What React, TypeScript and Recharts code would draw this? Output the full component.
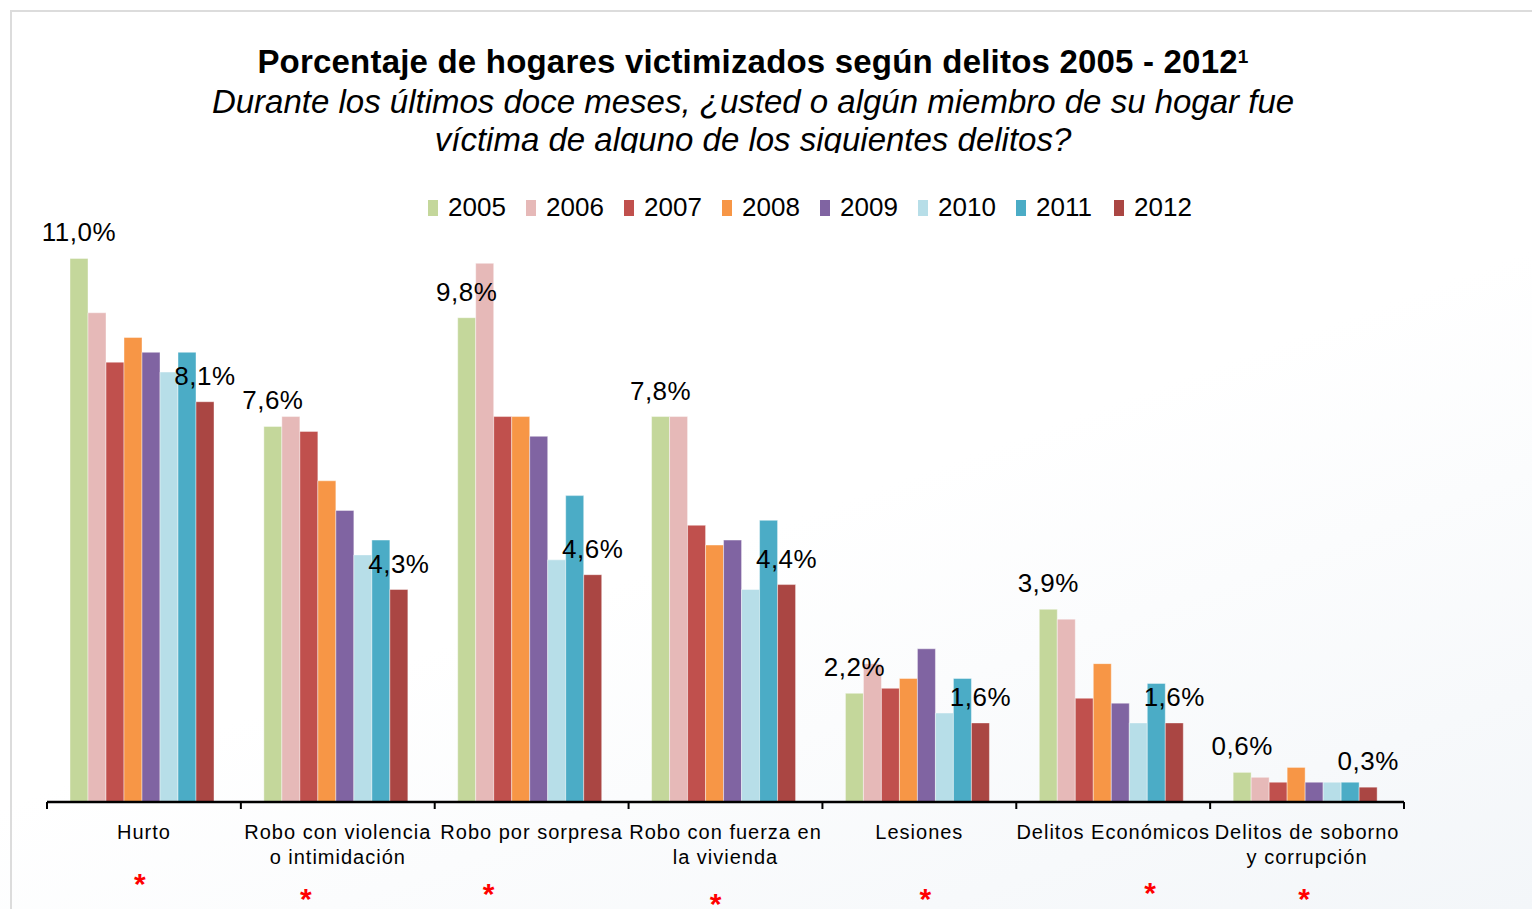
import React from "react";
import { BarChart, Bar, XAxis, YAxis, Legend, LabelList } from "recharts";

const categories = [
  "Hurto",
  "Robo con violencia\no intimidación",
  "Robo por sorpresa",
  "Robo con fuerza en\nla vivienda",
  "Lesiones",
  "Delitos Económicos",
  "Delitos de soborno\ny corrupción",
];

const years = ["2005", "2006", "2007", "2008", "2009", "2010", "2011", "2012"];

const v2005 = [11.0, 7.6, 9.8, 7.8, 2.2, 3.9, 0.6];
const v2006 = [9.9, 7.8, 10.9, 7.8, 2.8, 3.7, 0.5];
const v2007 = [8.9, 7.5, 7.8, 5.6, 2.3, 2.1, 0.4];
const v2008 = [9.4, 6.5, 7.8, 5.2, 2.5, 2.8, 0.7];
const v2009 = [9.1, 5.9, 7.4, 5.3, 3.1, 2.0, 0.4];
const v2010 = [8.7, 5.0, 4.9, 4.3, 1.8, 1.6, 0.4];
const v2011 = [9.1, 5.3, 6.2, 5.7, 2.5, 2.4, 0.4];
const v2012 = [8.1, 4.3, 4.6, 4.4, 1.6, 1.6, 0.3];

const series = [v2005, v2006, v2007, v2008, v2009, v2010, v2011, v2012];
const colors = ["#C4D79B", "#E6B9B8", "#C0504D", "#F79646", "#8064A2", "#B7DEE8", "#4BACC6", "#AA4643"];

const data = categories.map((c, i) => {
  const row: any = { name: c };
  years.forEach((y, k) => (row["y" + y] = series[k][i]));
  return row;
});

// chart frame
const W = 1532;
const H = 909;
const M = { top: 209, right: 128, left: 47, bottom: 7 };
const BAND = (W - M.left - M.right) / categories.length;

// red asterisks under each category (dx from centre, baseline below axis)
const stars = [
  { dx: -4, dy: 92 },
  { dx: -32, dy: 107 },
  { dx: -43, dy: 102 },
  { dx: -10, dy: 112 },
  { dx: 6, dy: 107 },
  { dx: 37, dy: 101 },
  { dx: -3, dy: 107 },
];

const FONT = "'Liberation Sans', Arial, sans-serif";

const fmt = (v: any) => Number(v).toFixed(1).replace(".", ",") + "%";

function CategoryTick({ x, y, payload, index }: any) {
  const lines = String(payload.value).split("\n");
  const s = stars[index];
  const last = index === categories.length - 1;
  return (
    <g>
      <line x1={x - BAND / 2} x2={x - BAND / 2} y1={y} y2={y + 7} stroke="#000" strokeWidth={2} />
      {last && <line x1={x + BAND / 2} x2={x + BAND / 2} y1={y} y2={y + 7} stroke="#000" strokeWidth={2} />}
      <text x={x} y={y + 37} textAnchor="middle" fontSize={20} fontFamily={FONT} fill="#000" letterSpacing={1}>
        {lines.map((l, i) => (
          <tspan key={i} x={x} dy={i ? 25 : 0}>
            {l}
          </tspan>
        ))}
      </text>
      <text x={x + s.dx} y={y + s.dy} textAnchor="middle" fontSize={30} fontWeight="bold" fontFamily={FONT} fill="#FF0000">
        *
      </text>
    </g>
  );
}

function YearLegend({ payload }: any) {
  return (
    <div style={{ display: "flex", fontFamily: FONT, fontSize: 26, color: "#000" }}>
      {(payload || []).map((p: any) => (
        <div key={p.value} style={{ width: 98, display: "flex", alignItems: "center" }}>
          <span style={{ width: 10, height: 16, background: p.color, marginRight: 10, display: "inline-block" }} />
          <span>{p.value}</span>
        </div>
      ))}
    </div>
  );
}

export default function App() {
  return (
    <div
      style={{
        position: "absolute",
        left: 0,
        top: 0,
        width: W,
        height: H,
        overflow: "hidden",
        background: "linear-gradient(160deg, #ffffff 55%, #f3f6f9 100%)",
      }}
    >
      <div
        style={{
          position: "absolute",
          left: 10,
          top: 10,
          width: W,
          height: H,
          border: "2px solid #dcdcdc",
        }}
      />
      <div
        style={{
          position: "absolute",
          left: 0,
          top: 41,
          width: 1506,
          textAlign: "center",
          fontFamily: FONT,
          color: "#000",
        }}
      >
        <div style={{ fontSize: 33, fontWeight: "bold", lineHeight: "42px", letterSpacing: 0.2 }}>
          Porcentaje de hogares victimizados según delitos 2005 - 2012
          <sup style={{ fontSize: 19, verticalAlign: "10px", lineHeight: 0 }}>1</sup>
        </div>
        <div style={{ fontSize: 33, fontStyle: "italic", lineHeight: "38px", height: 70, overflow: "hidden", marginTop: 0 }}>
          Durante los últimos doce meses, ¿usted o algún miembro de su hogar fue
          <br />
          víctima de alguno de los siguientes delitos?
        </div>
      </div>
      <div style={{ position: "absolute", left: 0, top: 0 }}>
        <BarChart width={W} height={H} data={data} margin={M} barCategoryGap={23} barGap={0}>
          <XAxis
            dataKey="name"
            interval={0}
            height={100}
            tickSize={0}
            tickMargin={0}
            tickLine={false}
            axisLine={{ stroke: "#000", strokeWidth: 2.5 }}
            tick={<CategoryTick />}
          />
          <YAxis hide domain={[0, 12]} />
          <Legend
            layout="horizontal"
            verticalAlign="middle"
            align="center"
            content={<YearLegend />}
            wrapperStyle={{ top: 192, left: 428, width: 800 }}
          />
          {years.map((y, k) => (
            <Bar
              key={y}
              dataKey={"y" + y}
              name={y}
              fill={colors[k]}
              stroke="#ffffff"
              strokeWidth={0.6}
              strokeOpacity={0.7}
              isAnimationActive={false}
            >
              {(k === 0 || k === years.length - 1) && (
                <LabelList
                  dataKey={"y" + y}
                  position="top"
                  offset={17}
                  formatter={fmt}
                  fill="#000"
                  fontSize={26}
                  fontFamily={FONT}
                  letterSpacing={0.5}
                />
              )}
            </Bar>
          ))}
        </BarChart>
      </div>
    </div>
  );
}
